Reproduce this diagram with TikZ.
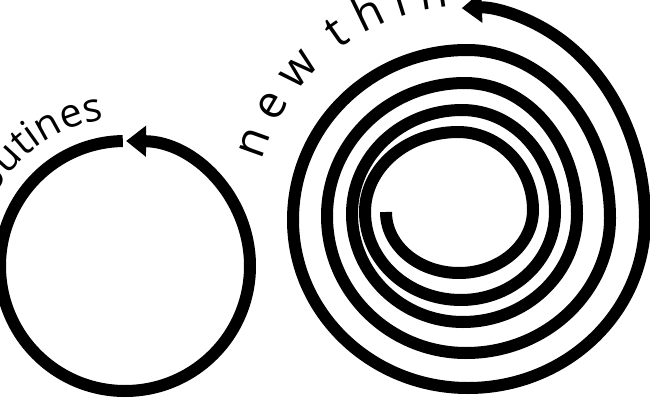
\documentclass[tikz,border=0pt]{standalone}
\usepackage{fontspec}
\setmainfont{Open Sans}
\usetikzlibrary{arrows.meta,decorations.text}
\begin{document}
\begin{tikzpicture}[x=1pt,y=1pt,
  thick line/.style={line width=12pt,line cap=butt,-{Triangle[length=20pt,width=30pt]}}]
\useasboundingbox (0,0) rectangle (650,400);
\coordinate (c1) at (125,134);
% left circle
\draw[thick line] ([shift={(91:125)}]c1) arc[start angle=91,end angle=449.5,radius=125];
\path[decorate,decoration={text along path,text align=right,text={|\fontsize{40}{40}\selectfont|routines}}]
  ([shift={(200:148)}]c1) arc[start angle=200,end angle=98,radius=148];
% spiral
\coordinate (s0) at (386,188);
\draw[thick line] (s0)
 arc[start angle=180,end angle=270,x radius=73,y radius=61]
 arc[start angle=270,end angle=360,x radius=74,y radius=63]
 arc[start angle=0,end angle=90,x radius=75,y radius=78]
 arc[start angle=90,end angle=180,x radius=93,y radius=80]
 arc[start angle=180,end angle=270,x radius=96,y radius=88]
 arc[start angle=270,end angle=360,x radius=94,y radius=88]
 arc[start angle=0,end angle=90,x radius=93,y radius=102]
 arc[start angle=90,end angle=180,x radius=110,y radius=104]
 arc[start angle=180,end angle=270,x radius=111,y radius=108]
 arc[start angle=270,end angle=360,x radius=114,y radius=108]
 arc[start angle=0,end angle=90,x radius=112,y radius=131]
 arc[start angle=90,end angle=180,x radius=138,y radius=133]
 arc[start angle=180,end angle=270,x radius=139,y radius=137]
 arc[start angle=270,end angle=360,x radius=144,y radius=135]
 arc[start angle=0,end angle=90,x radius=143,y radius=168]
 arc[start angle=90,end angle=180,x radius=174,y radius=170]
 arc[start angle=180,end angle=270,x radius=175,y radius=168]
 arc[start angle=270,end angle=360,x radius=177,y radius=168]
 arc[start angle=0,end angle=92,x radius=177,y radius=212];
\coordinate (c2) at (468,180);
\path[decorate,decoration={text along path,text align=left,text={|\fontsize{46}{46}\selectfont|n{ }e{ }w{ }{ }t{ }h{ }i{ }n{ }g{ }s}}]
  ([shift={(164:214)}]c2) arc[start angle=164,end angle=90,radius=214];
\end{tikzpicture}
\end{document}
